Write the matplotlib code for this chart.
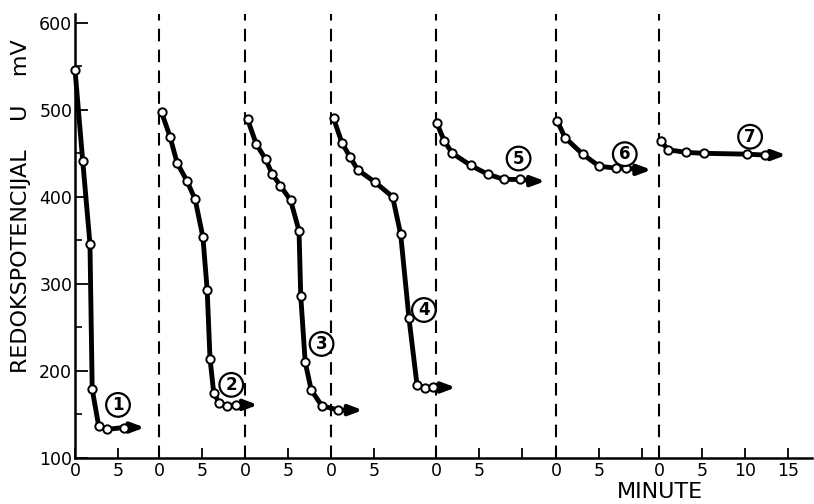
import matplotlib
matplotlib.use("Agg")
import matplotlib.pyplot as plt

# --- data (time in minutes, redox potential in mV) ---
t1 = [0, 0.9, 1.74, 2.0, 2.75, 3.76, 5.7]
u1 = [546, 441, 346, 179, 137, 133, 135]
t2 = [0.3, 1.28, 2.1, 3.26, 4.2, 5.1, 5.6, 5.93, 6.36, 7.0, 7.94, 8.95]
u2 = [497, 469, 439, 418, 397, 354, 293, 214, 175, 163, 160, 161]
t3 = [0.3, 1.29, 2.4, 3.17, 4.1, 5.3, 6.28, 6.48, 7.0, 7.7, 8.93, 10.86]
u3 = [489, 461, 443, 426, 413, 396, 361, 286, 210, 178, 160, 155]
t4 = [0.3, 1.27, 2.2, 3.1, 5.1, 7.16, 8.1, 9.06, 10.0, 10.9, 11.9]
u4 = [490, 462, 446, 431, 417, 400, 357, 261, 184, 180, 181]
t5 = [0.08, 0.97, 1.9, 4.05, 6.0, 7.9, 9.8]
u5 = [485, 464, 450, 436, 426, 420, 420]
t6 = [0.15, 1.05, 3.1, 5.05, 7.0, 8.1]
u6 = [487, 468, 449, 435, 433, 433]
t7 = [0.2, 1.1, 3.2, 5.2, 10.2, 12.3]
u7 = [464, 454, 451, 450, 449, 448]

# arrow tips (continuation of each curve)
arrow_t = [8.1, 11.5, 13.7, 14.5, 12.7, 11.1, 14.8]
arrow_u = [135, 161, 155, 181, 418, 431, 448]

series_labels = ["1", "2", "3", "4", "5", "6", "7"]
yticks = [100, 200, 300, 400, 500, 600]
xtick_labels_per_panel = [["0", "5"], ["0", "5"], ["0", "5"], ["0", "5"],
                          ["0", "5", ""], ["0", "5", ""], ["0", "5", "10", "15"]]
xtick_vals_per_panel = [[0, 5], [0, 5], [0, 5], [0, 5], [0, 5, 10], [0, 5, 10], [0, 5, 10, 15]]

# --- layout ---
offsets = [0, 9.77, 19.77, 29.77, 41.98, 55.93, 67.9]
label_pos = [(5.0, 161), (8.4, 184), (8.9, 231), (10.8, 270), (9.6, 444), (8.0, 449), (10.6, 469)]

T = [t1, t2, t3, t4, t5, t6, t7]
U = [u1, u2, u3, u4, u5, u6, u7]

fig = plt.figure(figsize=(8.14, 5.04), dpi=100)
ax = fig.add_axes([75 / 814, 46 / 504, 737 / 814, 444 / 504])
ax.set_xlim(0, 85.7)
ax.set_ylim(100, 610)

for sp in ("top", "right"):
    ax.spines[sp].set_visible(False)
ax.spines["left"].set_linewidth(1.8)
ax.spines["bottom"].set_linewidth(1.8)

# dashed panel separators
for off in offsets[1:]:
    ax.plot([off, off], [100, 610], color="black", lw=1.5,
            dashes=(6, 4), clip_on=False, zorder=1)

for i in range(7):
    off = offsets[i]
    xs = [off + t for t in T[i]]
    ys = U[i]
    ax_end = off + arrow_t[i]
    ay_end = arrow_u[i]
    # line + continuation to arrow
    ax.plot(xs + [ax_end - 1.0], ys + [ay_end], color="black", lw=3.5,
            solid_joinstyle="round", solid_capstyle="round", zorder=3, clip_on=False)
    ax.annotate("", xy=(ax_end, ay_end), xytext=(ax_end - 1.6, ay_end),
                arrowprops=dict(arrowstyle="-|>,head_length=0.8,head_width=0.3",
                                lw=3, color="black", shrinkA=0, shrinkB=0),
                zorder=3)
    ax.plot(xs, ys, linestyle="none", marker="o", ms=6, mfc="white",
            mec="black", mew=1.4, zorder=4, clip_on=False)
    lx, ly = label_pos[i]
    ax.text(off + lx, ly, series_labels[i], ha="center", va="center", fontsize=12,
            fontweight="bold", zorder=5,
            bbox=dict(boxstyle="circle,pad=0.17", fc="white", ec="black", lw=1.6))

# ticks
xt, xl = [], []
for off, vals, labs in zip(offsets, xtick_vals_per_panel, xtick_labels_per_panel):
    for v, l in zip(vals, labs):
        xt.append(off + v)
        xl.append(l)
ax.set_xticks(xt)
ax.set_xticklabels(xl, fontsize=12.5)
ax.set_yticks(yticks)
ax.set_yticklabels([str(v) for v in yticks], fontsize=12.5)
ax.set_yticks([150, 250, 350, 450, 550], minor=True)
ax.tick_params(axis="x", direction="in", length=7, width=1.3, pad=3)
ax.tick_params(axis="y", which="major", direction="in", length=9, width=1.3, pad=2)
ax.tick_params(axis="y", which="minor", direction="in", length=5, width=1.2)

fig.text(21 / 814, 1 - 206 / 504, "REDOKSPOTENCIJAL    U    mV", rotation=90,
         ha="center", va="center", fontsize=16)
fig.text(660 / 814, 1 - 492 / 504, "MINUTE", ha="center", va="center", fontsize=16)

fig.savefig("out.png", dpi=100)
